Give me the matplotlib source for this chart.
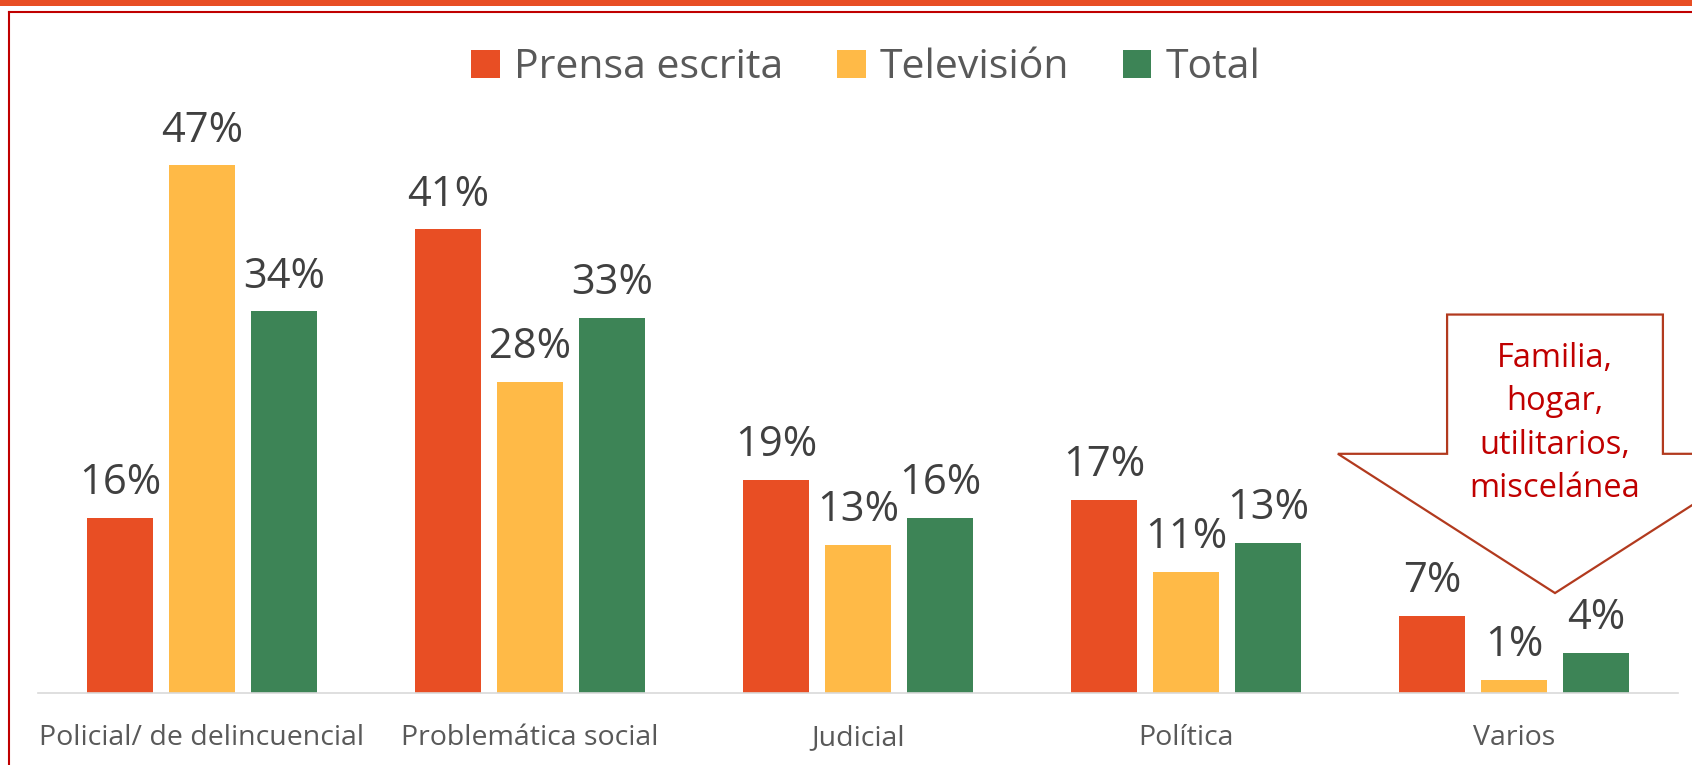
import numpy as np
import matplotlib
matplotlib.use('Agg')
import matplotlib.pyplot as plt
from matplotlib.patches import Polygon, Rectangle
from matplotlib.lines import Line2D

categories = ['Policial/ de delincuencial', 'Problemática social', 'Judicial', 'Política', 'Varios']
series_names = ['Prensa escrita', 'Televisión', 'Total']
prensa = [15.6, 41.3, 19.0, 17.2, 6.9]
television = [47.0, 27.7, 13.2, 10.8, 1.2]
total = [34.0, 33.4, 15.6, 13.4, 3.6]
colors = ['#E84E24', '#FFBA47', '#3D8456']
callout_text = 'Familia,\nhogar,\nutilitarios,\nmiscelánea'

plt.rcParams['font.family'] = ['Open Sans', 'DejaVu Sans']

W, H = 1692, 765
fig = plt.figure(figsize=(W / 100, H / 100), dpi=100)

# orange band on top + red frame (cut by the screenshot on right/bottom)
fig.add_artist(Rectangle((0, 1 - 6 / H), 1, 6 / H, transform=fig.transFigure,
                         facecolor='#E84E24', lw=0))
fig.add_artist(Line2D([8.5 / W, 8.5 / W], [0, 1 - 12 / H], transform=fig.transFigure,
                      color='#C00000', lw=1.5))
fig.add_artist(Line2D([8.5 / W, 1], [1 - 12 / H, 1 - 12 / H], transform=fig.transFigure,
                      color='#C00000', lw=1.5))

ax = fig.add_axes([38 / W, 72 / H, 1640 / W, 561.5 / H])
x = np.arange(len(categories))
width = 0.2

for k, (name, vals) in enumerate(zip(series_names, [prensa, television, total])):
    bars = ax.bar(x + (k - 1) * 0.25, vals, width, color=colors[k], label=name, zorder=2)
    for b, v in zip(bars, vals):
        ax.annotate(f'{v:.0f}%', (b.get_x() + b.get_width() / 2, b.get_height()),
                    xytext=(0, 17), textcoords='offset points', ha='center', va='baseline',
                    fontsize=30, color='#404040', zorder=4)

ax.set_xlim(-0.5, len(categories) - 0.5)
ax.set_ylim(0, 50)
ax.set_yticks([])
ax.set_xticks(x, categories)
ax.tick_params(axis='x', length=0, pad=37.5, labelsize=20.5, labelcolor='#595959')
for lbl in ax.get_xticklabels():
    lbl.set_va('baseline')
for s in ['top', 'left', 'right']:
    ax.spines[s].set_visible(False)
ax.spines['bottom'].set_color('#D9D9D9')
ax.spines['bottom'].set_linewidth(1.2)

# down arrow callout over "Varios"
cx = x[-1] + 0.125
box_half, wing_half = 0.329, 0.662
top_y, shoulder_y, tip_y = 33.7, 21.3, 8.9
arrow = Polygon([(cx - box_half, top_y), (cx + box_half, top_y), (cx + box_half, shoulder_y),
                 (cx + wing_half, shoulder_y), (cx, tip_y), (cx - wing_half, shoulder_y),
                 (cx - box_half, shoulder_y)], closed=True, facecolor='white',
                edgecolor='#B23A1E', lw=1.6, clip_on=False, zorder=3)
ax.add_patch(arrow)
ax.text(cx, 24.0, callout_text, ha='center', va='center', fontsize=23.5, color='#C00000',
        linespacing=1.42, zorder=5)

fig.legend(loc='center', bbox_to_anchor=(866 / W, 1 - 68 / H), ncol=3, frameon=False,
           fontsize=29.5, handlelength=0.7, handleheight=0.7, handletextpad=0.35,
           columnspacing=1.3, labelcolor='#595959')

plt.savefig('out.png', dpi=100)
plt.close()
